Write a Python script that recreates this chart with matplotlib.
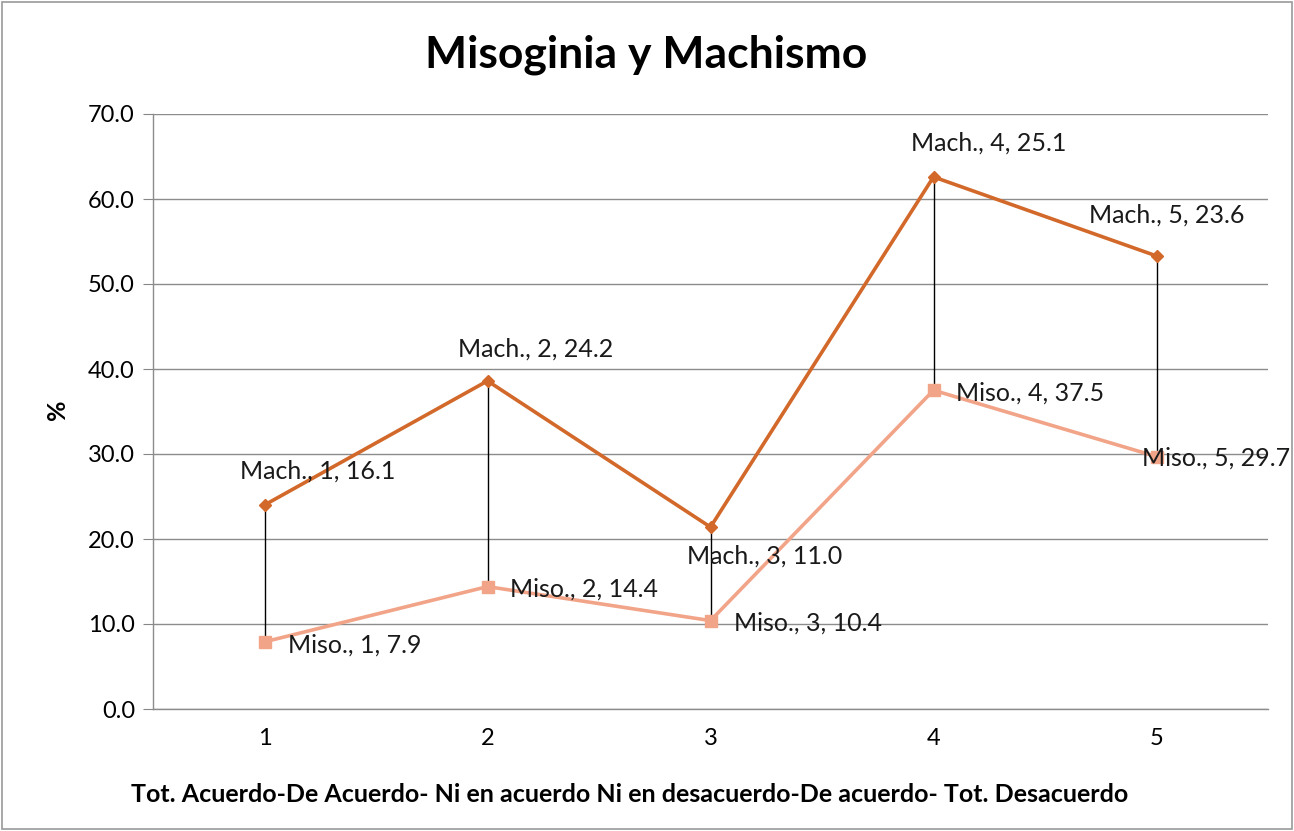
import matplotlib
matplotlib.use("Agg")
import matplotlib.pyplot as plt
from matplotlib.patches import Rectangle
import numpy as np

categories = [1, 2, 3, 4, 5]
miso = [7.9, 14.4, 10.4, 37.5, 29.7]
mach = [16.1, 24.2, 11.0, 25.1, 23.6]
yticks = [0, 10, 20, 30, 40, 50, 60, 70]

plt.rcParams['font.family'] = ['Lato', 'DejaVu Sans']

miso_a = np.array(miso)
mach_top = miso_a + np.array(mach)

fig = plt.figure(figsize=(12.94, 8.31), dpi=100)
ax = fig.add_axes([153/1294, 1 - 709/831, (1268-153)/1294, (709-114)/831])

mach_c = '#D2692A'
miso_c = '#F2A489'
ax.vlines(categories, miso_a, mach_top, colors='black', linewidth=1.0, zorder=2)
ax.plot(categories, miso_a, color=miso_c, linewidth=2.6, marker='s', markersize=8.5, zorder=3)
ax.plot(categories, mach_top, color=mach_c, linewidth=2.6, marker='D', markersize=6.5, zorder=4)

px = 0.72
mach_off = [(53, 34), (48, 32), (54, -29), (55, 34), (10, 41)]
for x, y, v, (dx, dy) in zip(categories, mach_top, mach, mach_off):
    ax.annotate(f"Mach., {x}, {v:.1f}", (x, y), xytext=(dx*px, dy*px), textcoords='offset points',
                ha='center', va='center', fontsize=18, color='#1a1a1a', zorder=6)
miso_off = [(24, -3), (23, -2), (23, -2), (22, -3), (-15, -2)]
for x, y, v, (dx, dy) in zip(categories, miso_a, miso, miso_off):
    ax.annotate(f"Miso., {x}, {v:.1f}", (x, y), xytext=(dx*px, dy*px), textcoords='offset points',
                ha='left', va='center', fontsize=18, color='#1a1a1a', zorder=6)

ax.set_xlim(0.5, 5.5)
ax.set_ylim(0, 70)
ax.set_yticks(yticks)
ax.set_yticklabels([f"{t:.1f}" for t in yticks], fontsize=17)
ax.set_xticks(categories)
ax.set_xticklabels([str(c) for c in categories], fontsize=17)
ax.tick_params(axis='x', length=0, pad=14)
ax.tick_params(axis='y', length=7, color='#868686', pad=6)
ax.grid(axis='y', color='#8c8c8c', linewidth=1.0)
ax.set_axisbelow(True)
for s in ['top', 'right']:
    ax.spines[s].set_visible(False)
for s in ['left', 'bottom']:
    ax.spines[s].set_color('#8c8c8c')
    ax.spines[s].set_linewidth(1.0)

fig.text(646/1294, 1 - 55/831, "Misoginia y Machismo", ha='center', va='center',
         fontsize=32, fontweight='bold')
fig.text(58/1294, 1 - 410/831, "%", ha='center', va='center', rotation=90,
         fontsize=18, fontweight='bold')
fig.text(630/1294, 1 - 795/831,
         "Tot. Acuerdo-De Acuerdo- Ni en acuerdo Ni en desacuerdo-De acuerdo- Tot. Desacuerdo",
         ha='center', va='center', fontsize=18, fontweight='bold')

fig.patches.append(Rectangle((2/1294, 2/831), 1 - 4/1294, 1 - 4/831, transform=fig.transFigure,
                             fill=False, edgecolor='#9a9a9a', linewidth=1.2))

fig.savefig("out.png", dpi=100)
